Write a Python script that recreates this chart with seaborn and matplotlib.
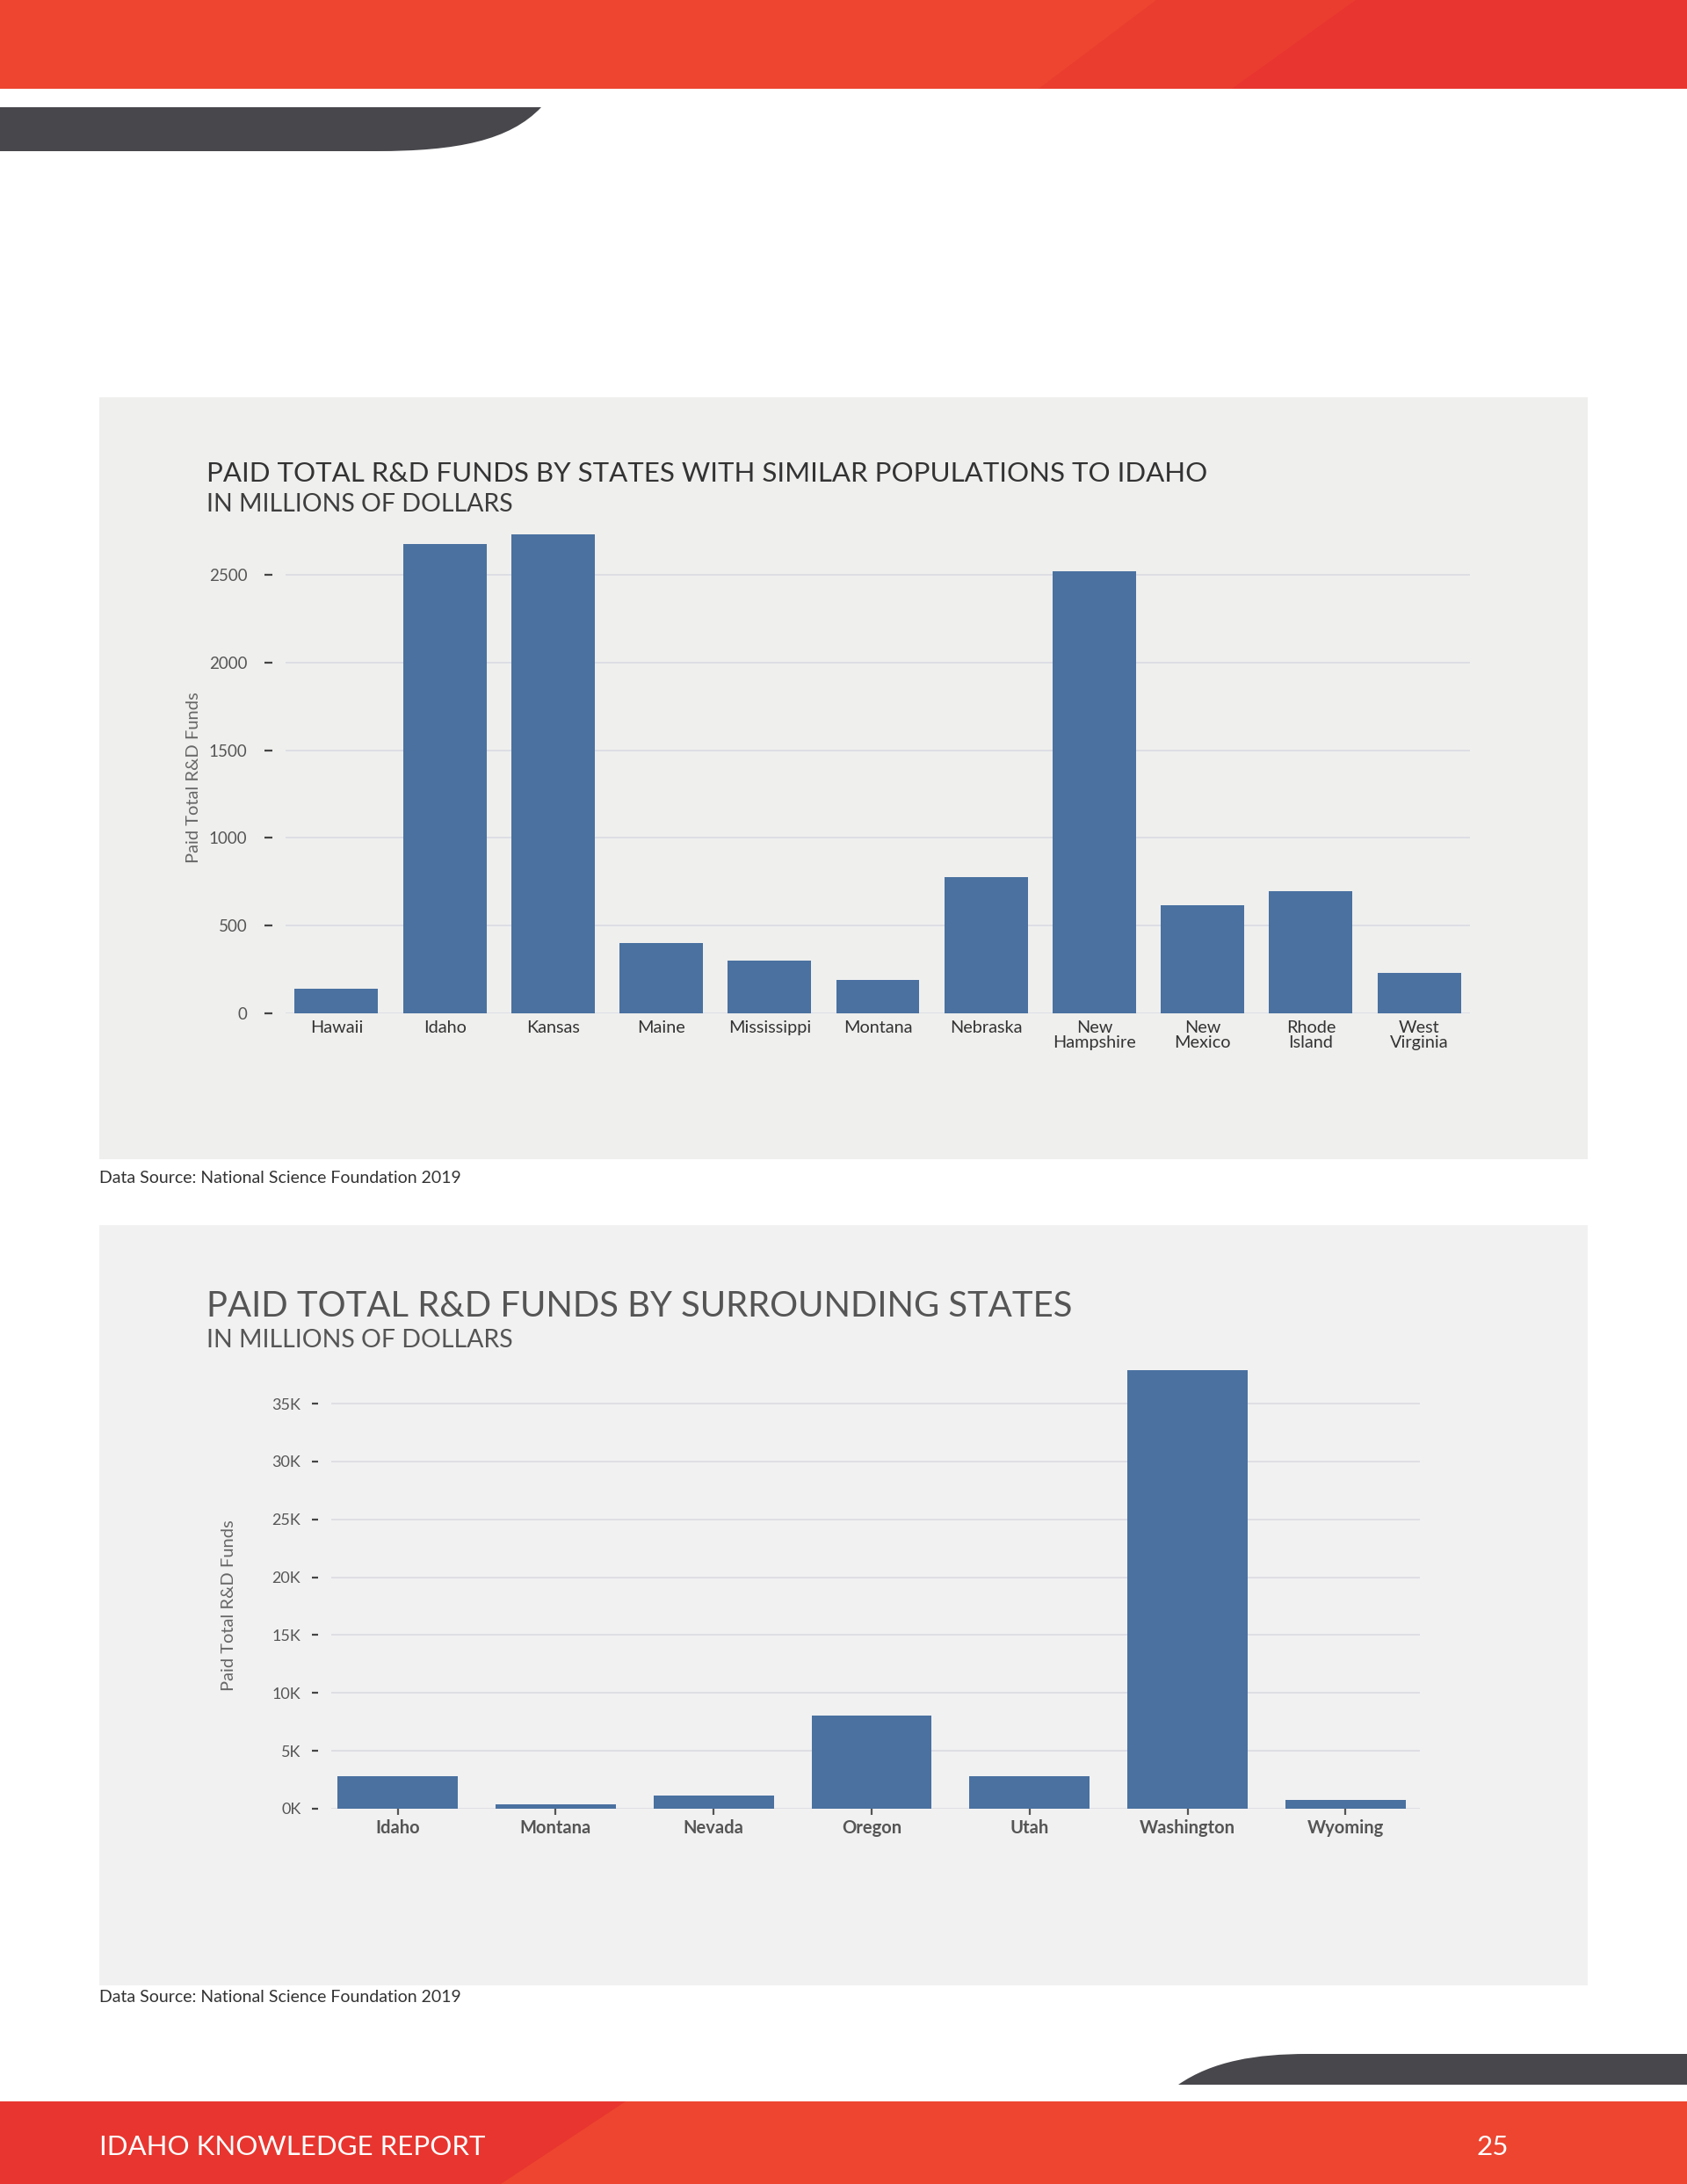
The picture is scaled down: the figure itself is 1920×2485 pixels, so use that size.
import matplotlib
matplotlib.use("Agg")
import matplotlib.pyplot as plt
from matplotlib.patches import Rectangle, PathPatch, Polygon
from matplotlib.path import Path
import seaborn as sns
import pandas as pd

# ---------------- data ----------------
states_similar = ["Hawaii", "Idaho", "Kansas", "Maine", "Mississippi", "Montana",
                  "Nebraska", "New\nHampshire", "New\nMexico", "Rhode\nIsland", "West\nVirginia"]
funds_similar = [140, 2676, 2732, 400, 300, 192, 776, 2518, 614, 696, 231]
yticks_similar = [0, 500, 1000, 1500, 2000, 2500]
ytick_labels_similar = ["0", "500", "1000", "1500", "2000", "2500"]

states_surrounding = ["Idaho", "Montana", "Nevada", "Oregon", "Utah", "Washington", "Wyoming"]
funds_surrounding = [2830, 350, 1115, 8070, 2840, 37930, 725]
yticks_surrounding = [0, 5000, 10000, 15000, 20000, 25000, 30000, 35000]
ytick_labels_surrounding = ["0K", "5K", "10K", "15K", "20K", "25K", "30K", "35K"]

title1 = "PAID TOTAL R&D FUNDS BY STATES WITH SIMILAR POPULATIONS TO IDAHO"
title2 = "PAID TOTAL R&D FUNDS BY SURROUNDING STATES"
subtitle = "IN MILLIONS OF DOLLARS"
ylabel = "Paid Total R&D Funds"
source = "Data Source: National Science Foundation 2019"
footer = "IDAHO KNOWLEDGE REPORT"
page_no = "25"

# ---------------- style ----------------
sns.set_theme(style="white")
plt.rcParams["font.family"] = ["Lato", "DejaVu Sans"]

W, H = 1920, 2485
fig = plt.figure(figsize=(W / 100, H / 100), dpi=100)
fig.patch.set_facecolor("white")

BAR = "#4A71A0"
GRID = "#DCDDE3"


def fx(x):
    return x / W


def fy(y):
    return 1 - y / H


def rect(x0, y0, x1, y1, color, z=0):
    fig.add_artist(Rectangle((fx(x0), fy(y1)), (x1 - x0) / W, (y1 - y0) / H,
                             transform=fig.transFigure, facecolor=color,
                             edgecolor="none", zorder=z))


def poly(pts, color, z=0):
    fig.add_artist(Polygon([(fx(x), fy(y)) for x, y in pts], closed=True,
                           transform=fig.transFigure, facecolor=color,
                           edgecolor="none", zorder=z))


def curve_shape(verts, codes, color, z=0):
    p = Path([(fx(x), fy(y)) for x, y in verts], codes)
    fig.add_artist(PathPatch(p, transform=fig.transFigure, facecolor=color,
                             edgecolor="none", zorder=z))


# top band
rect(0, 0, W, 101, "#ED4530", 0)
poly([(1316, 0), (W, 0), (W, 101), (1182, 101)], "#EA3D2F", 0.1)
poly([(1543, 0), (W, 0), (W, 101), (1402, 101)], "#E8352F", 0.2)
# dark swoosh top-left
curve_shape([(0, 122), (616, 122), (580, 160), (520, 172), (428, 172), (0, 172), (0, 122)],
            [Path.MOVETO, Path.LINETO, Path.CURVE4, Path.CURVE4, Path.CURVE4,
             Path.LINETO, Path.CLOSEPOLY], "#48474C", 0.3)

# bottom band
rect(0, 2391, W, H, "#ED4530", 0)
poly([(0, 2391), (712, 2391), (570, H), (0, H)], "#E8352F", 0.1)
# dark swoosh bottom-right
curve_shape([(1341, 2372), (1380, 2345), (1430, 2337), (1488, 2337), (W, 2337), (W, 2372), (1341, 2372)],
            [Path.MOVETO, Path.CURVE4, Path.CURVE4, Path.CURVE4, Path.LINETO,
             Path.LINETO, Path.CLOSEPOLY], "#48474C", 0.3)

# panels
rect(113, 452, 1807, 1319, "#EFEFEE", 0)
rect(113, 1394, 1807, 2259, "#F1F1F2", 0)

# ---------------- chart 1 ----------------
df1 = pd.DataFrame({"state": states_similar, "funds": funds_similar})
ax1 = fig.add_axes([fx(325), fy(1153), (1673 - 325) / W, (1153 - 604) / H])
ax1.set_facecolor("none")
sns.barplot(data=df1, x="state", y="funds", color=BAR, saturation=1, width=0.77,
            edgecolor="none", ax=ax1)
ax1.set_xlim(-0.47, len(states_similar) - 0.53)
ax1.set_ylim(0, 2750)
ax1.set_yticks(yticks_similar, ytick_labels_similar)
for s in ax1.spines.values():
    s.set_visible(False)
ax1.spines["left"].set_position(("outward", 11))
ax1.yaxis.grid(True, color=GRID, lw=1.3)
ax1.xaxis.grid(False)
ax1.set_axisbelow(True)
ax1.tick_params(axis="y", length=6.5, width=1.6, color="#444444", pad=14,
                labelsize=13.5, labelcolor="#555555", left=True)
ax1.tick_params(axis="x", length=0, pad=6, labelsize=14.3, labelcolor="#333333")
for t in ax1.get_xticklabels():
    t.set_linespacing(1.0)
ax1.set_xlabel("")
ax1.set_ylabel(ylabel, fontsize=14.5, color="#666666")
ax1.yaxis.set_label_coords((229 - 325) / (1673 - 325), (1153 - 885) / (1153 - 604))

fig.text(fx(235), fy(539), title1, fontsize=22.5, color="#333333", va="center", ha="left")
fig.text(fx(235), fy(574), subtitle, fontsize=20.5, color="#3d3d3d", va="center", ha="left")
fig.text(fx(113), fy(1340), source, fontsize=14, color="#333333", va="center", ha="left")

# ---------------- chart 2 ----------------
df2 = pd.DataFrame({"state": states_surrounding, "funds": funds_surrounding})
ax2 = fig.add_axes([fx(377), fy(2058), (1616 - 377) / W, (2058 - 1555) / H])
ax2.set_facecolor("none")
sns.barplot(data=df2, x="state", y="funds", color=BAR, saturation=1, width=0.76,
            edgecolor="none", ax=ax2)
ax2.set_xlim(-0.42, len(states_surrounding) - 0.53)
ax2.set_ylim(0, 38200)
ax2.set_yticks(yticks_surrounding, ytick_labels_surrounding)
for s in ax2.spines.values():
    s.set_visible(False)
ax2.spines["left"].set_position(("outward", 11))
ax2.yaxis.grid(True, color=GRID, lw=1.3)
ax2.xaxis.grid(False)
ax2.set_axisbelow(True)
ax2.tick_params(axis="y", length=5, width=1.6, color="#444444", pad=9,
                labelsize=13, labelcolor="#555555", left=True)
ax2.tick_params(axis="x", length=5, width=1.6, color="#555555", pad=4,
                labelsize=14.5, labelcolor="#555555", bottom=True)
for t in ax2.get_xticklabels():
    t.set_fontweight("bold")
ax2.set_xlabel("")
ax2.set_ylabel(ylabel, fontsize=14.5, color="#666666")
ax2.yaxis.set_label_coords((269 - 377) / (1616 - 377), (2058 - 1827) / (2058 - 1555))

fig.text(fx(235), fy(1486), title2, fontsize=28.8, color="#555555", va="center", ha="left")
fig.text(fx(235), fy(1525), subtitle, fontsize=20.5, color="#555555", va="center", ha="left")
fig.text(fx(113), fy(2272), source, fontsize=14, color="#333333", va="center", ha="left")

# footer texts
fig.text(fx(113), fy(2443), footer, fontsize=22.5, color="white", va="center", ha="left",
         zorder=5)
fig.text(fx(1717), fy(2443), page_no, fontsize=22.5, color="white", va="center", ha="right",
         zorder=5)

fig.savefig("out.png", dpi=100)
